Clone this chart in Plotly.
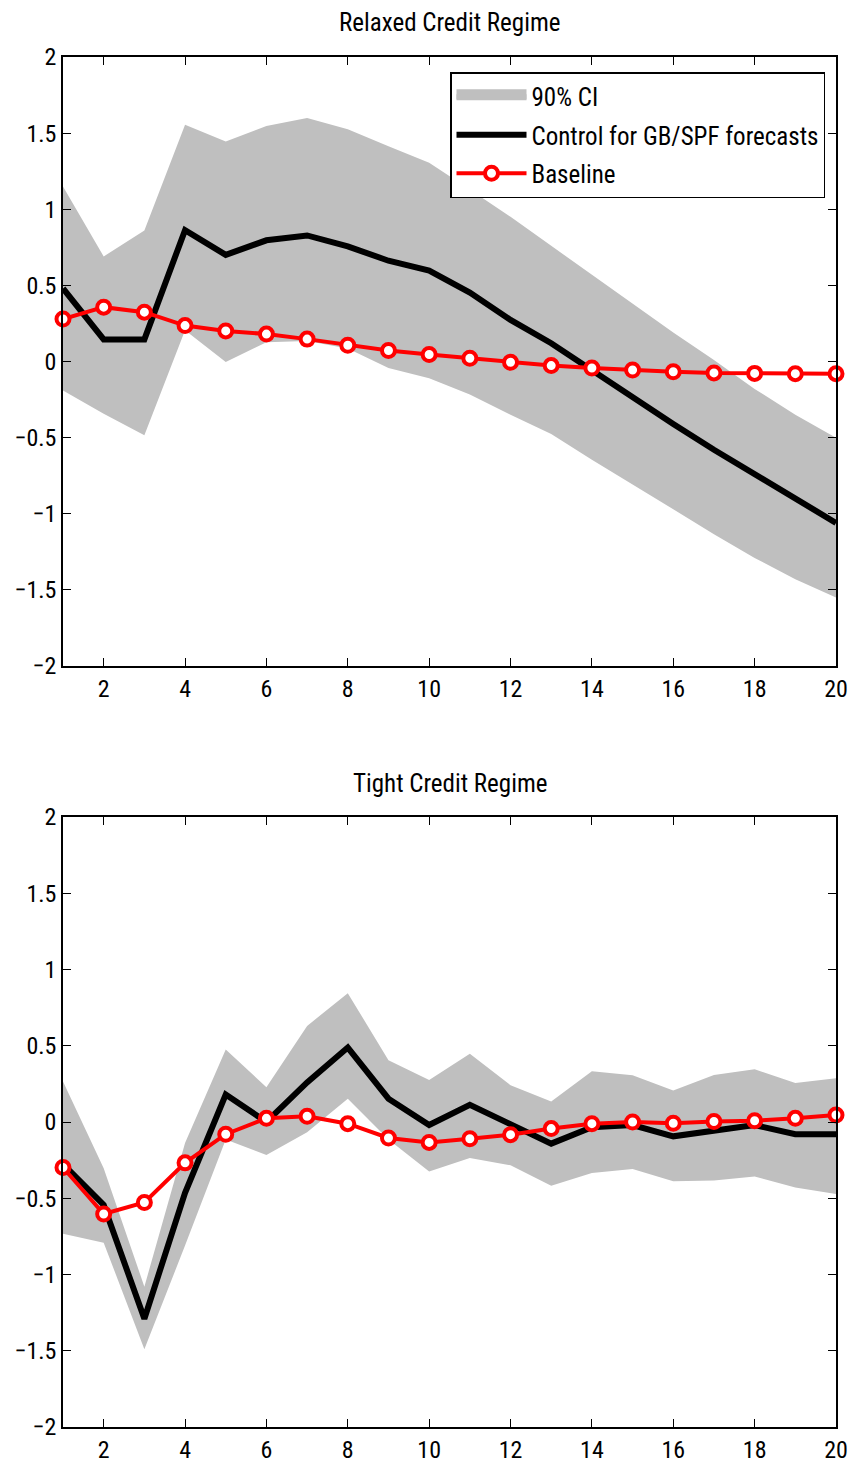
import plotly.graph_objects as go

x = list(range(1, 21))

# Relaxed credit regime
relax_ci_upper = [1.15, 0.69, 0.86, 1.555, 1.445, 1.547, 1.60, 1.525, 1.413, 1.306,
                  1.13, 0.95, 0.76, 0.57, 0.38, 0.19, 0.01, -0.18, -0.35, -0.50]
relax_ci_lower = [-0.19, -0.343, -0.485, 0.206, -0.003, 0.126, 0.134, 0.086, -0.043, -0.11,
                  -0.217, -0.35, -0.477, -0.646, -0.81, -0.97, -1.134, -1.29, -1.43, -1.55]
relax_control = [0.48, 0.145, 0.145, 0.863, 0.70, 0.796, 0.828, 0.756, 0.662, 0.597,
                 0.453, 0.273, 0.12, -0.06, -0.23, -0.41, -0.58, -0.737, -0.90, -1.06]
relax_baseline = [0.279, 0.357, 0.324, 0.236, 0.201, 0.18, 0.147, 0.107, 0.072, 0.046,
                  0.021, -0.005, -0.027, -0.043, -0.056, -0.067, -0.075, -0.078, -0.08, -0.08]

# Tight credit regime
tight_ci_upper = [0.265, -0.303, -1.08, -0.137, 0.475, 0.228, 0.63, 0.845, 0.405, 0.276,
                  0.448, 0.241, 0.134, 0.332, 0.306, 0.206, 0.308, 0.346, 0.255, 0.287]
tight_ci_lower = [-0.732, -0.791, -1.49, -0.81, -0.115, -0.217, -0.067, 0.153, -0.115, -0.324,
                  -0.236, -0.284, -0.418, -0.335, -0.308, -0.389, -0.383, -0.357, -0.429, -0.472]
tight_control = [-0.276, -0.544, -1.29, -0.464, 0.18, 0.0, 0.26, 0.488, 0.153, -0.02,
                 0.113, -0.02, -0.142, -0.035, -0.02, -0.094, -0.056, -0.02, -0.08, -0.08]
tight_baseline = [-0.298, -0.603, -0.528, -0.268, -0.08, 0.024, 0.038, -0.011, -0.105, -0.134,
                  -0.11, -0.083, -0.043, -0.011, 0.0, -0.008, 0.003, 0.008, 0.024, 0.046]

titles = ["Relaxed Credit Regime", "Tight Credit Regime"]
legend_names = ["90% CI", "Control for GB/SPF forecasts", "Baseline"]
y_ticks = [-2, -1.5, -1, -0.5, 0, 0.5, 1, 1.5, 2]
x_ticks = [2, 4, 6, 8, 10, 12, 14, 16, 18, 20]

FONT = "Roboto Condensed, Liberation Sans, Arial, sans-serif"
GREY = "#BFBFBF"
RED = "#FF0000"
FS = 25
FS_TICK = 24

fig = go.Figure()

panels = [
    (relax_ci_upper, relax_ci_lower, relax_control, relax_baseline, "x", "y"),
    (tight_ci_upper, tight_ci_lower, tight_control, tight_baseline, "x2", "y2"),
]

for i, (up, lo, ctrl, base, xa, ya) in enumerate(panels):
    show = (i == 0)
    fig.add_trace(go.Scatter(
        x=x + x[::-1], y=up + lo[::-1], fill="toself", fillcolor=GREY,
        line=dict(width=0, color=GREY), mode="lines", name=legend_names[0],
        showlegend=False, xaxis=xa, yaxis=ya, hoverinfo="skip"))
    if show:
        # legend entry for the CI band (patch-like swatch)
        fig.add_trace(go.Scatter(
            x=[None], y=[None], mode="lines", fill="toself", fillcolor=GREY,
            line=dict(color=GREY, width=10),
            name=legend_names[0], legendgroup="g1", showlegend=True, xaxis=xa, yaxis=ya))
    fig.add_trace(go.Scatter(
        x=x, y=ctrl, mode="lines", line=dict(color="black", width=6),
        name=legend_names[1], legendgroup="g2", showlegend=show, xaxis=xa, yaxis=ya))
    fig.add_trace(go.Scatter(
        x=x, y=base, mode="lines+markers", line=dict(color=RED, width=4),
        marker=dict(symbol="circle", size=13, color="white", line=dict(color=RED, width=4)),
        name=legend_names[2], legendgroup="g3", showlegend=show, xaxis=xa, yaxis=ya,
        cliponaxis=False))

H, W = 1471, 854
xdom = [63 / W, 836 / W]
ydom_top = [1 - 666 / H, 1 - 57 / H]
ydom_bot = [1 - 1427 / H, 1 - 817 / H]

axis_common = dict(
    showline=True, linecolor="black", linewidth=1.5, mirror="ticks",
    ticks="inside", ticklen=8, tickwidth=1, tickcolor="black",
    showgrid=False, zeroline=False,
    tickfont=dict(family=FONT, size=FS_TICK, color="black"),
)

fig.update_layout(
    width=W, height=H,
    margin=dict(l=0, r=0, t=0, b=0, autoexpand=False),
    paper_bgcolor="white", plot_bgcolor="white",
    font=dict(family=FONT, color="black"),
    xaxis=dict(domain=xdom, range=[1, 20], tickvals=x_ticks, anchor="y", **axis_common),
    yaxis=dict(domain=ydom_top, range=[-2, 2], tickvals=y_ticks, anchor="x", **axis_common),
    xaxis2=dict(domain=xdom, range=[1, 20], tickvals=x_ticks, anchor="y2", **axis_common),
    yaxis2=dict(domain=ydom_bot, range=[-2, 2], tickvals=y_ticks, anchor="x2", **axis_common),
    legend=dict(
        x=450 / W, y=1 - 72 / H, xanchor="left", yanchor="top",
        bordercolor="black", borderwidth=1.5, bgcolor="white",
        font=dict(family=FONT, size=FS, color="black"),
        itemwidth=70, tracegroupgap=3, traceorder="grouped",
    ),
    showlegend=True,
    annotations=[
        dict(text=titles[0], x=449.5 / W, y=1 - 22 / H, xref="paper", yref="paper",
             showarrow=False, xanchor="center", yanchor="middle",
             font=dict(family=FONT, size=FS, color="black")),
        dict(text=titles[1], x=449.5 / W, y=1 - 783 / H, xref="paper", yref="paper",
             showarrow=False, xanchor="center", yanchor="middle",
             font=dict(family=FONT, size=FS, color="black")),
    ],
)

fig.write_html("out.html")
